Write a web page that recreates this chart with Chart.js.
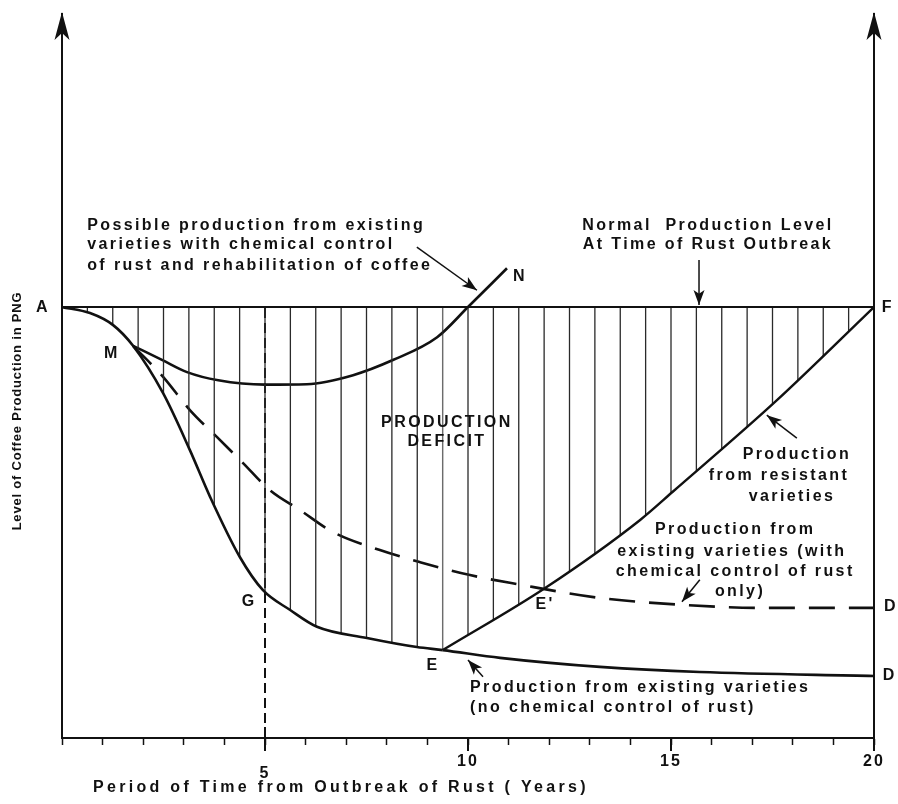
<!DOCTYPE html>
<html>
<head>
<meta charset="utf-8">
<title>Coffee rust production deficit</title>
<script src="https://cdn.jsdelivr.net/npm/chart.js@4.4.1/dist/chart.umd.min.js"></script>
<style>
  html, body { margin: 0; padding: 0; background: #fff; }
  #chart { display: block; }
</style>
</head>
<body>
<canvas id="chart" width="898" height="804"></canvas>
<script>
// years after the outbreak vs production level (normal level at outbreak = 100)
const NORMAL_LEVEL = 100;
const normalYears = [0, 20];
const normalLevels = [100, 100];

// A - M - G - E - D : existing varieties, no chemical control
const yearsNoControl = [0, 0.69, 1.26, 1.75, 2.49, 3.15, 3.65, 4.38, 4.95, 5.62, 6.28, 7.51, 8.74, 9.38, 10.79, 13.25, 15.71, 20];
const levelNoControl = [100, 98.6, 95.8, 91.0, 80.0, 66.8, 55.9, 42.0, 34.3, 29.7, 25.8, 23.2, 21.1, 20.4, 18.6, 16.5, 15.3, 14.4];

// M - E' - D : chemical control only (dashed)
const yearsChemical = [1.75, 2.49, 3.15, 3.82, 4.46, 5.12, 5.86, 6.67, 7.83, 8.82, 10.05, 11.21, 13.25, 15.30, 17.19, 20];
const levelChemical = [91.0, 83.8, 76.1, 69.8, 63.8, 57.5, 52.9, 47.8, 43.6, 40.8, 37.8, 35.7, 32.5, 30.9, 30.2, 30.2];

// M - N : chemical control plus rehabilitation
const yearsRehab = [1.75, 2.45, 3.08, 3.85, 5.0, 6.03, 7.17, 8.15, 9.24, 10.0, 10.96];
const levelRehab = [91.0, 87.8, 84.9, 83.0, 82.0, 82.1, 84.2, 87.7, 93.0, 100, 109.0];

// E - E' - F : resistant varieties
const yearsResistant = [9.38, 11.90, 14.24, 15.05, 17.61, 20];
const levelResistant = [20.4, 34.8, 50.6, 57.2, 78.4, 100];

// vertical dashed marker at year 5
const markerYears = [5, 5];
const markerLevels = [0, 100];

const HATCH_STEP = 0.625;
const majorTicks = [5, 10, 15, 20];

const pts = (xs, ys) => xs.map((x, i) => ({ x, y: ys[i] }));
const INK = "#111";
const FONT = '"Liberation Sans", Arial, sans-serif';

let hatchCache = null;
const hatchFill = (chart) => {
  const xs = chart.scales && chart.scales.x;
  if (!xs || !chart.chartArea) return "rgba(0,0,0,0)";
  const key = chart.width + ":" + xs.left + ":" + xs.right;
  if (hatchCache && hatchCache.key === key) return hatchCache.pattern;
  const tile = document.createElement("canvas");
  tile.width = chart.width;
  tile.height = 8;
  const t = tile.getContext("2d");
  t.fillStyle = "#2a2a2a";
  for (let k = 1; k * HATCH_STEP < xs.max; k++) {
    const px = xs.getPixelForValue(k * HATCH_STEP);
    t.fillRect(px - 0.65, 0, 1.3, 8);
  }
  const pattern = chart.ctx.createPattern(tile, "repeat-y");
  hatchCache = { key, pattern };
  return pattern;
};

const E_YEAR = yearsResistant[0];

// callouts, placed in data units
const notes = [
  ["Possible production from existing", 0.62, 119.0, "left"],
  ["varieties with chemical control", 0.62, 114.4, "left"],
  ["of rust and rehabilitation of coffee", 0.62, 109.7, "left"],
  ["N", 11.28, 107.0, "center"],
  ["Normal  Production Level", 15.91, 119.0, "center"],
  ["At Time of Rust Outbreak", 15.91, 114.4, "center"],
  ["F", 20.34, 99.8, "center"],
  ["A", -0.47, 99.8, "center"],
  ["M", 1.23, 89.1, "center"],
  ["PRODUCTION", 9.48, 73.3, "center"],
  ["DEFICIT", 9.48, 68.7, "center"],
  ["G", 4.61, 31.6, "center"],
  ["E", 9.14, 16.9, "center"],
  ["E'", 11.9, 30.9, "center"],
  ["D", 20.42, 30.4, "center"],
  ["D", 20.39, 14.4, "center"],
  ["Production", 18.10, 65.7, "center"],
  ["from resistant", 17.66, 61.0, "center"],
  ["varieties", 17.98, 56.1, "center"],
  ["Production from", 16.58, 48.3, "center"],
  ["existing varieties (with", 16.50, 43.2, "center"],
  ["chemical control of rust", 16.58, 38.5, "center"],
  ["only)", 16.70, 33.9, "center"],
  ["Production from existing varieties", 10.05, 11.6, "left"],
  ["(no chemical control of rust)", 10.05, 7.0, "left"],
];

const pointers = [
  [8.74, 113.9, 10.22, 103.9],
  [15.69, 110.9, 15.69, 100.5],
  [18.10, 69.6, 17.36, 74.9],
  [15.71, 36.7, 15.27, 31.6],
  [10.37, 14.2, 10.0, 18.1],
];

const arrowHead = (ctx, x1, y1, x2, y2, len, half) => {
  const a = Math.atan2(y2 - y1, x2 - x1);
  ctx.beginPath();
  ctx.moveTo(x2, y2);
  ctx.lineTo(x2 - len * Math.cos(a) + half * Math.sin(a), y2 - len * Math.sin(a) - half * Math.cos(a));
  ctx.lineTo(x2 - len * 0.75 * Math.cos(a), y2 - len * 0.75 * Math.sin(a));
  ctx.lineTo(x2 - len * Math.cos(a) - half * Math.sin(a), y2 - len * Math.sin(a) + half * Math.cos(a));
  ctx.closePath();
  ctx.fill();
};

const figureNotes = {
  id: "figureNotes",
  beforeDraw(chart) {
    const ctx = chart.ctx;
    ctx.save();
    ctx.fillStyle = "#fff";
    ctx.fillRect(0, 0, chart.width, chart.height);
    ctx.restore();
    ctx.letterSpacing = "2px";
  },
  afterDatasetsDraw(chart) {
    const { ctx, chartArea } = chart;
    const xs = chart.scales.x, ys = chart.scales.y;
    ctx.save();
    ctx.strokeStyle = INK;
    ctx.fillStyle = INK;

    // longer ticks every 5 years
    ctx.lineWidth = 2;
    majorTicks.forEach((v) => {
      const px = xs.getPixelForValue(v);
      ctx.beginPath();
      ctx.moveTo(px, chartArea.bottom - (v === 5 ? 11 : 0));
      ctx.lineTo(px, chartArea.bottom + 13);
      ctx.stroke();
    });

    // arrows on top of both vertical axes
    [chartArea.left, chartArea.right].forEach((px) => {
      arrowHead(ctx, px, chartArea.top + 40, px, chartArea.top - 2, 28, 7.5);
    });

    // callout pointers
    ctx.lineWidth = 1.5;
    pointers.forEach(([x1, y1, x2, y2]) => {
      const a = [xs.getPixelForValue(x1), ys.getPixelForValue(y1)];
      const b = [xs.getPixelForValue(x2), ys.getPixelForValue(y2)];
      ctx.beginPath();
      ctx.moveTo(a[0], a[1]);
      ctx.lineTo(b[0], b[1]);
      ctx.stroke();
      arrowHead(ctx, a[0], a[1], b[0], b[1], 15, 5.5);
    });

    // text
    ctx.font = "bold 16px " + FONT;
    ctx.letterSpacing = "2.4px";
    ctx.textBaseline = "middle";
    notes.forEach(([text, x, y, align]) => {
      ctx.textAlign = align;
      ctx.fillText(text, xs.getPixelForValue(x), ys.getPixelForValue(y));
    });

    // axis titles
    ctx.textAlign = "left";
    ctx.letterSpacing = "3.3px";
    ctx.fillText("Period of Time from Outbreak of Rust ( Years)", chartArea.left + 31, chartArea.bottom + 50);
    ctx.font = "bold 13px " + FONT;
    ctx.letterSpacing = "0.8px";
    ctx.textAlign = "center";
    ctx.translate(chartArea.left - 45, chartArea.top + 397);
    ctx.rotate(-Math.PI / 2);
    ctx.fillText("Level of Coffee Production in PNG", 0, 0);
    ctx.restore();
  },
};

new Chart(document.getElementById("chart").getContext("2d"), {
  type: "line",
  data: {
    datasets: [
      {
        label: "Normal production level",
        data: pts(normalYears, normalLevels),
        borderColor: INK,
        borderWidth: 2,
        pointRadius: 0,
        tension: 0,
      },
      {
        label: "No chemical control",
        data: pts(yearsNoControl, levelNoControl),
        borderColor: INK,
        borderWidth: 2.6,
        pointRadius: 0,
        cubicInterpolationMode: "monotone",
        fill: { value: NORMAL_LEVEL },
        backgroundColor: (c) => hatchFill(c.chart),
        segment: {
          backgroundColor: (c) =>
            c.p0.parsed.x < E_YEAR - 1e-6 ? hatchFill(c.chart) : "rgba(0,0,0,0)",
        },
      },
      {
        label: "Resistant varieties",
        data: pts(yearsResistant, levelResistant),
        borderColor: INK,
        borderWidth: 2.4,
        pointRadius: 0,
        cubicInterpolationMode: "monotone",
        fill: { value: NORMAL_LEVEL },
        backgroundColor: (c) => hatchFill(c.chart),
      },
      {
        label: "Chemical control only",
        data: pts(yearsChemical, levelChemical),
        borderColor: INK,
        borderWidth: 2.6,
        borderDash: [26, 14],
        pointRadius: 0,
        cubicInterpolationMode: "monotone",
      },
      {
        label: "Chemical control and rehabilitation",
        data: pts(yearsRehab, levelRehab),
        borderColor: INK,
        borderWidth: 2.6,
        pointRadius: 0,
        cubicInterpolationMode: "monotone",
      },
      {
        label: "Year 5",
        data: pts(markerYears, markerLevels),
        borderColor: INK,
        borderWidth: 2,
        borderDash: [10, 5],
        pointRadius: 0,
        tension: 0,
      },
    ],
  },
  options: {
    responsive: false,
    animation: false,
    events: [],
    layout: { padding: { top: 14 } },
    plugins: { legend: { display: false }, tooltip: { enabled: false } },
    scales: {
      x: {
        type: "linear",
        min: 0,
        max: 20,
        border: { color: INK, width: 2 },
        grid: { drawOnChartArea: false, drawTicks: true, tickLength: 7, tickWidth: 1.5, tickColor: INK },
        ticks: {
          stepSize: 1,
          autoSkip: false,
          maxRotation: 0,
          padding: 7,
          color: INK,
          font: (c) => ({
            family: FONT,
            size: 16,
            weight: "bold",
            lineHeight: c.tick && c.tick.value === 5 ? 0.9 : 1.2,
          }),
          callback: (v) => (majorTicks.includes(v) ? (v === 5 ? ["", "5"] : String(v)) : ""),
        },
        afterFit: (s) => { s.height = 66; },
      },
      y: {
        type: "linear",
        min: 0,
        max: 168,
        position: "left",
        border: { color: INK, width: 2 },
        grid: { drawOnChartArea: false, drawTicks: false },
        ticks: { display: false },
        afterFit: (s) => { s.width = 62; },
      },
      y2: {
        type: "linear",
        min: 0,
        max: 168,
        position: "right",
        border: { color: INK, width: 2 },
        grid: { drawOnChartArea: false, drawTicks: false },
        ticks: { display: false },
        afterFit: (s) => { s.width = 24; },
      },
    },
  },
  plugins: [figureNotes],
});
</script>
</body>
</html>
